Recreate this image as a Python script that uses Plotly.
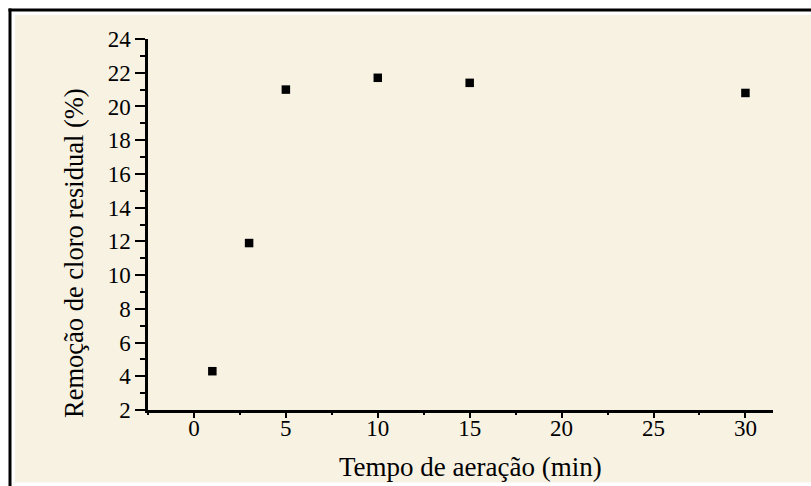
import plotly.graph_objects as go

# Aeration time (min) and residual chlorine removal (%)
tempo_min = [1, 3, 5, 10, 15, 30]
remocao_pct = [4.3, 11.9, 21.0, 21.7, 21.4, 20.8]

x_range = [-2.5, 31.5]
y_range = [2, 24]

W, H = 811, 486
L, R, T, B = 148, 38, 39, 76
pw, ph = W - L - R, H - T - B


def px(xp):
    return (xp - L) / pw


def py(yp):
    return (H - B - yp) / ph


serif = "Liberation Serif, Times New Roman, serif"
tick_font = dict(family=serif, size=23, color="black")

fig = go.Figure()
fig.add_trace(
    go.Scatter(
        x=tempo_min,
        y=remocao_pct,
        xaxis="x",
        yaxis="y",
        mode="markers",
        marker=dict(symbol="square", size=8.5, color="black", line=dict(width=0)),
        hoverinfo="x+y",
    )
)
# same points on the tick-mark axis (transparent) so that axis gets drawn
fig.add_trace(
    go.Scatter(
        x=tempo_min,
        y=remocao_pct,
        xaxis="x2",
        yaxis="y",
        mode="markers",
        marker=dict(size=1, opacity=0),
        hoverinfo="skip",
    )
)

# x axis: line and numbers (ticks drawn by the overlaid axis, so labels sit close)
fig.update_layout(
    xaxis=dict(
        range=x_range,
        tick0=0,
        dtick=5,
        ticks="",
        showline=True,
        linecolor="black",
        linewidth=2.5,
        showgrid=False,
        zeroline=False,
        tickfont=tick_font,
        ticklabelstandoff=-4,
    ),
    xaxis2=dict(
        range=x_range,
        overlaying="x",
        side="bottom",
        anchor="y",
        tick0=0,
        dtick=5,
        ticks="outside",
        ticklen=7,
        tickwidth=2,
        tickcolor="black",
        minor=dict(ticks="outside", dtick=2.5, tick0=0, ticklen=4, tickwidth=2, tickcolor="black"),
        showticklabels=False,
        showline=False,
        showgrid=False,
        zeroline=False,
    ),
    yaxis=dict(
        range=y_range,
        tick0=0,
        dtick=2,
        ticks="outside",
        ticklen=10,
        tickwidth=2,
        tickcolor="black",
        minor=dict(ticks="outside", dtick=1, tick0=0, ticklen=5, tickwidth=2, tickcolor="black"),
        showline=True,
        linecolor="black",
        linewidth=2.5,
        showgrid=False,
        zeroline=False,
        tickfont=tick_font,
    ),
)

shapes = [
    # beige panel behind the chart
    dict(type="rect", xref="paper", yref="paper", layer="below",
         x0=px(15), x1=px(W + 5), y0=py(482.5), y1=py(15),
         fillcolor="#F8F2E3", line=dict(width=0)),
    # frame edges
    dict(type="line", xref="paper", yref="paper", layer="above",
         x0=px(8.5), x1=px(W + 5), y0=py(10), y1=py(10),
         line=dict(color="black", width=3)),
    dict(type="line", xref="paper", yref="paper", layer="above",
         x0=px(10), x1=px(10), y0=py(8.5), y1=py(H + 5),
         line=dict(color="black", width=3)),
]

annotations = [
    dict(text="Tempo de aeração (min)", xref="paper", yref="paper",
         x=px(470.5), y=py(467), showarrow=False, xanchor="center", yanchor="middle",
         font=dict(family=serif, size=27, color="black")),
    dict(text="Remoção de cloro residual (%)", xref="paper", yref="paper",
         x=px(74), y=py(253), showarrow=False, xanchor="center", yanchor="middle",
         textangle=-90, font=dict(family=serif, size=26.5, color="black")),
]

fig.update_layout(
    width=W,
    height=H,
    margin=dict(l=L, r=R, t=T, b=B, pad=0),
    paper_bgcolor="white",
    plot_bgcolor="rgba(0,0,0,0)",
    showlegend=False,
    shapes=shapes,
    annotations=annotations,
)

fig.write_html("out.html", include_plotlyjs=True, config={"displayModeBar": False})
